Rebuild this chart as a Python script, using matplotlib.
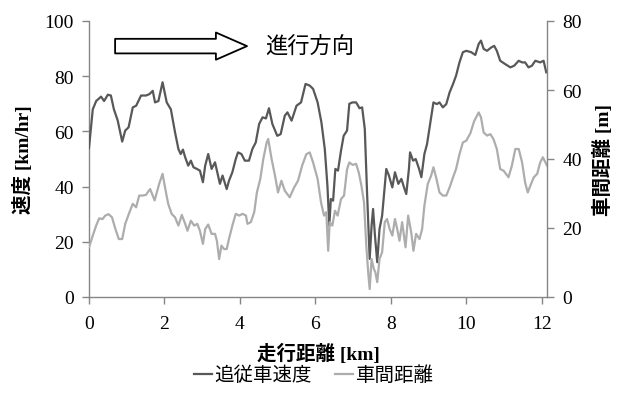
import matplotlib
matplotlib.use("Agg")
import matplotlib.pyplot as plt
from matplotlib.patches import FancyArrowPatch
from matplotlib.lines import Line2D

# ---- data ----
speed_km = [0.00, 0.10, 0.19, 0.32, 0.40, 0.50, 0.58, 0.66, 0.76, 0.88, 0.96, 1.05, 1.16, 1.25,
            1.38, 1.51, 1.60, 1.69, 1.75, 1.84, 1.95, 2.06, 2.17, 2.28, 2.37, 2.43, 2.49, 2.55,
            2.63, 2.70, 2.77, 2.86, 2.94, 3.02, 3.08, 3.16, 3.25, 3.34, 3.41, 3.47, 3.54, 3.65,
            3.71, 3.80, 3.89, 3.95, 4.04, 4.13, 4.24, 4.33, 4.42, 4.51, 4.60, 4.69, 4.77, 4.86,
            4.99, 5.08, 5.19, 5.26, 5.37, 5.50, 5.62, 5.74, 5.85, 5.94, 6.06, 6.16, 6.25, 6.32,
            6.37, 6.41, 6.47, 6.53, 6.60, 6.68, 6.75, 6.84, 6.90, 6.98, 7.08, 7.17, 7.24, 7.31,
            7.37, 7.44, 7.49, 7.53, 7.58, 7.64, 7.70, 7.77, 7.84, 7.88, 7.95, 8.04, 8.11, 8.20,
            8.28, 8.35, 8.41, 8.48, 8.51, 8.59, 8.66, 8.75, 8.81, 8.89, 8.96, 9.05, 9.13, 9.22,
            9.29, 9.38, 9.47, 9.56, 9.65, 9.73, 9.82, 9.91, 10.00, 10.13, 10.24, 10.33, 10.39,
            10.46, 10.55, 10.66, 10.74, 10.81, 10.90, 11.03, 11.17, 11.27, 11.39, 11.48, 11.56,
            11.65, 11.74, 11.83, 11.96, 12.05, 12.12]
speed_kmh = [54.0, 68.0, 71.0, 72.6, 71.0, 73.3, 73.0, 68.0, 64.0, 56.3, 60.3, 61.5, 68.7, 69.3,
             73.0, 73.0, 73.5, 74.7, 70.5, 71.0, 77.8, 70.5, 68.0, 59.7, 53.6, 51.8, 53.4, 50.6,
             47.6, 49.4, 47.0, 46.4, 45.8, 41.6, 47.6, 51.8, 46.4, 48.8, 44.6, 41.0, 44.0, 39.1,
             42.1, 45.2, 50.0, 52.4, 51.8, 49.4, 49.4, 53.6, 56.0, 62.7, 65.1, 64.7, 68.4, 62.7,
             58.4, 59.0, 65.7, 66.9, 63.9, 69.3, 70.5, 77.2, 76.6, 75.4, 70.5, 63.3, 53.6, 40.3,
             25.8, 35.5, 34.9, 46.4, 45.8, 53.0, 58.4, 60.3, 70.0, 70.5, 70.5, 68.4, 68.7, 60.9,
             37.9, 13.8, 25.8, 31.9, 22.2, 12.6, 24.6, 29.5, 40.3, 46.4, 44.0, 39.7, 45.2, 41.0,
             42.8, 39.7, 37.3, 46.4, 52.4, 49.4, 50.0, 46.4, 43.4, 51.8, 55.4, 63.3, 70.5, 69.9,
             70.5, 68.7, 69.9, 74.2, 77.2, 80.2, 85.0, 88.7, 89.2, 88.7, 87.7, 91.7, 92.9,
             89.9, 89.2, 90.4, 91.0, 89.2, 85.6, 84.4, 83.2, 83.8, 85.6, 85.0, 85.0,
             83.2, 83.8, 85.6, 85.0, 85.6, 81.4]

gap_km = [0.00, 0.10, 0.19, 0.27, 0.36, 0.43, 0.52, 0.61, 0.70, 0.79, 0.88, 0.96, 1.07, 1.16,
          1.25, 1.33, 1.42, 1.51, 1.62, 1.74, 1.86, 1.95, 2.04, 2.10, 2.19, 2.28, 2.37, 2.46,
          2.55, 2.61, 2.70, 2.79, 2.87, 2.94, 3.02, 3.08, 3.16, 3.25, 3.34, 3.39, 3.45, 3.51,
          3.58, 3.65, 3.71, 3.80, 3.89, 3.98, 4.07, 4.16, 4.20, 4.29, 4.38, 4.45, 4.54, 4.62,
          4.71, 4.75, 4.84, 4.93, 5.01, 5.10, 5.19, 5.32, 5.44, 5.54, 5.65, 5.76, 5.85, 5.94,
          6.06, 6.15, 6.23, 6.29, 6.34, 6.38, 6.45, 6.52, 6.59, 6.68, 6.76, 6.84, 6.90, 6.99,
          7.08, 7.15, 7.22, 7.29, 7.35, 7.40, 7.44, 7.49, 7.55, 7.59, 7.64, 7.70, 7.77, 7.84,
          7.90, 7.97, 8.04, 8.11, 8.17, 8.23, 8.30, 8.39, 8.46, 8.54, 8.60, 8.67, 8.76, 8.83,
          8.89, 8.98, 9.07, 9.13, 9.20, 9.29, 9.38, 9.47, 9.56, 9.65, 9.73, 9.82, 9.91, 10.00,
          10.11, 10.21, 10.33, 10.39, 10.46, 10.55, 10.64, 10.72, 10.81, 10.90, 10.99, 11.12,
          11.21, 11.30, 11.39, 11.48, 11.56, 11.63, 11.70, 11.79, 11.88, 11.96, 12.03, 12.10,
          12.14]
gap_m = [14.4, 17.8, 20.7, 22.8, 22.6, 23.6, 24.0, 23.1, 19.7, 16.8, 16.8, 21.2, 24.5, 27.0,
         26.0, 29.4, 29.4, 29.6, 31.3, 28.0, 32.8, 35.7, 30.3, 27.0, 24.1, 23.1, 20.7, 23.8,
         21.2, 19.2, 22.1, 20.7, 21.2, 19.2, 15.4, 19.7, 21.0, 18.3, 18.3, 16.3, 11.0, 14.9,
         13.9, 13.9, 16.8, 20.7, 24.1, 23.6, 24.1, 23.6, 21.2, 21.7, 24.6, 30.3, 34.2, 40.0,
         44.8, 45.8, 40.0, 35.2, 30.3, 33.7, 30.8, 28.9, 31.8, 33.7, 38.1, 41.4, 41.9, 39.0,
         34.2, 27.4, 23.6, 24.6, 13.4, 21.7, 20.7, 25.0, 23.6, 28.4, 29.4, 37.0, 39.0, 38.3,
         38.6, 36.1, 32.3, 27.4, 14.9, 7.2, 2.3, 11.0, 8.1, 7.2, 4.3, 11.0, 13.0, 21.7,
         22.6, 19.7, 17.8, 22.6, 19.7, 16.3, 21.7, 14.4, 23.6, 18.8, 13.4, 18.3, 16.8, 19.7,
         26.5, 32.8, 35.2, 37.6, 34.7, 30.3, 29.4, 29.4, 31.8, 34.7, 37.1, 41.4, 44.8, 45.3,
         47.5, 51.0, 53.5, 52.1, 47.7, 46.8, 47.2, 45.8, 42.9, 37.1, 36.6, 34.7,
         38.1, 42.9, 42.9, 39.0, 33.2, 30.3, 32.3, 34.7, 35.7, 39.0, 40.5, 39.0,
         38.1]

x_ticks = [0, 2, 4, 6, 8, 10, 12]
left_ticks = [0, 20, 40, 60, 80, 100]
right_ticks = [0, 20, 40, 60, 80]

x_label = "走行距離 [km]"
left_label = "速度 [km/hr]"
right_label = "車間距離 [m]"
series_names = ["追従車速度", "車間距離"]
direction_text = "進行方向"

# ---- style ----
SERIF = ["Liberation Serif", "Noto Sans CJK JP"]
CJK = ["Noto Sans CJK JP", "DejaVu Sans"]
plt.rcParams["font.family"] = SERIF
DARK = "#585858"
LIGHT = "#adadad"
SPINE = "#868686"

fig = plt.figure(figsize=(6.17, 4.06), dpi=100)
ax = fig.add_axes([89 / 617, 1 - 298 / 406, (547 - 89) / 617, (298 - 22) / 406])
ax2 = ax.twinx()

ax.plot(speed_km, speed_kmh, color=DARK, lw=1.6, zorder=3)
ax2.plot(gap_km, gap_m, color=LIGHT, lw=1.6, zorder=2)

ax.set_xlim(0, 12.14)
ax.set_ylim(0, 100)
ax2.set_ylim(0, 80)
ax.set_xticks(x_ticks)
ax.set_yticks(left_ticks)
ax2.set_yticks(right_ticks)

for a in (ax, ax2):
    a.spines["top"].set_visible(False)
    for s in ("left", "right", "bottom"):
        a.spines[s].set_color(SPINE)
        a.spines[s].set_linewidth(1.0)
    a.tick_params(colors=SPINE, labelcolor="black", length=5, width=1.0,
                  labelsize=14, direction="out")
ax.tick_params(axis="x", pad=8)
ax.tick_params(axis="y", pad=6)
ax2.tick_params(axis="y", pad=6)
ax.spines["right"].set_visible(False)
ax2.spines["left"].set_visible(False)
ax2.spines["bottom"].set_visible(False)

ax.set_xlabel(x_label, fontsize=14, fontweight="bold", family=SERIF, labelpad=8)
ax.set_ylabel(left_label, fontsize=14, fontweight="bold", family=SERIF, labelpad=8)
ax2.set_ylabel(right_label, fontsize=14, fontweight="bold", family=SERIF, labelpad=8)

# direction arrow & text
arrow = FancyArrowPatch((0.057, 0.909), (0.345, 0.909), transform=ax.transAxes,
                        arrowstyle="simple,head_length=1.6,head_width=1.4,tail_width=0.75",
                        mutation_scale=14, facecolor="white", edgecolor="black",
                        lw=1.3, shrinkA=0, shrinkB=0, zorder=5)
ax.add_patch(arrow)
ax.text(0.384, 0.909, direction_text, transform=ax.transAxes, fontsize=16,
        family=CJK, va="center", ha="left")

handles = [Line2D([], [], color=DARK, lw=1.6), Line2D([], [], color=LIGHT, lw=1.6)]
fig.legend(handles, series_names, loc="center", bbox_to_anchor=(0.509, 0.074),
           ncol=2, frameon=False, prop={"family": CJK, "size": 14},
           handlelength=0.9, handletextpad=0.15, columnspacing=1.2)

fig.savefig("out.png", dpi=100)
